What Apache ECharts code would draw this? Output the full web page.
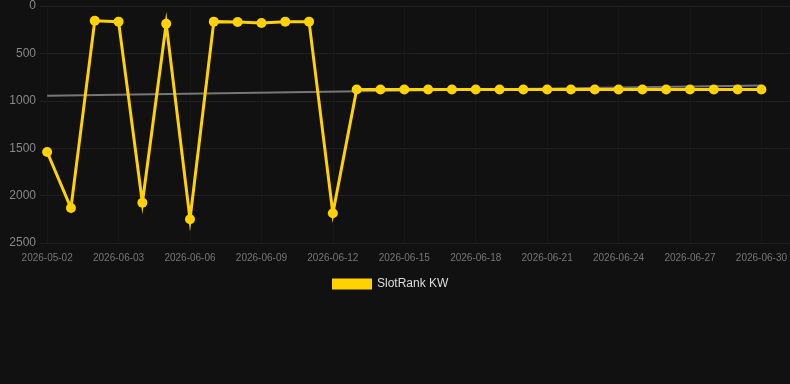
<!DOCTYPE html>
<html lang="en">
<head>
  <meta charset="UTF-8">
  <title>SlotRank KW</title>
  <style>
    html, body { margin: 0; padding: 0; background: #111111; }
    #main { width: 790px; height: 384px; }
  </style>
</head>
<body>
  <div id="main"></div>
<script src="https://cdn.jsdelivr.net/npm/echarts@6/dist/echarts.min.js"></script>
<script>
  // categories (x) - one per point
  var dates = ['2026-05-02', '2026-06-01', '2026-06-02', '2026-06-03', '2026-06-04', '2026-06-05',
    '2026-06-06', '2026-06-07', '2026-06-08', '2026-06-09', '2026-06-10', '2026-06-11',
    '2026-06-12', '2026-06-13', '2026-06-14', '2026-06-15', '2026-06-16', '2026-06-17',
    '2026-06-18', '2026-06-19', '2026-06-20', '2026-06-21', '2026-06-22', '2026-06-23',
    '2026-06-24', '2026-06-25', '2026-06-26', '2026-06-27', '2026-06-28', '2026-06-29', '2026-06-30'];
  // rank values
  var rank = [1540, 2131, 155, 165, 2075, 187, 2250, 165, 169, 179, 165, 165, 2187,
    880, 880, 880, 880, 880, 880, 880, 880, 880, 880, 880, 880, 880, 880, 880, 880, 880, 880];
  // grey trend line, start and end
  var trendStart = 946;
  var trendEnd = 838;
  // labelled ticks
  var labelIdx = [0, 3, 6, 9, 12, 15, 18, 21, 24, 27, 30];
  var yTicks = [0, 500, 1000, 1500, 2000, 2500];

  var chart = echarts.init(document.getElementById('main'));

  var option = {
    backgroundColor: '#111111',
    animation: false,
    grid: { left: 40, right: 0, top: 6, bottom: 141 },
    legend: {
      data: ['SlotRank KW'],
      left: 327,
      top: 273,
      icon: 'rect',
      itemWidth: 40,
      itemHeight: 11,
      itemGap: 6,
      textStyle: { color: '#dddddd', fontSize: 12, fontFamily: 'Liberation Sans, Arial, sans-serif' }
    },
    xAxis: {
      type: 'value',
      min: -0.3,
      max: 31.2,
      axisLine: { show: false },
      axisTick: { show: false, customValues: labelIdx },
      axisLabel: {
        customValues: labelIdx,
        color: '#777777',
        fontSize: 10,
        margin: 10,
        fontFamily: 'Liberation Sans, Arial, sans-serif',
        formatter: function (v) { return dates[Math.round(v)]; }
      },
      splitLine: { show: true, lineStyle: { color: '#181818', width: 1 } }
    },
    yAxis: {
      type: 'value',
      inverse: true,
      min: yTicks[0],
      max: yTicks[yTicks.length - 1],
      interval: 500,
      axisLine: { show: false },
      axisTick: { show: false },
      axisLabel: {
        color: '#888888',
        fontSize: 12,
        margin: 4,
        fontFamily: 'Liberation Sans, Arial, sans-serif',
        formatter: function (v) { return String(v); }
      },
      splitLine: { lineStyle: { color: '#212121', width: 1 } }
    },
    series: [
      {
        name: 'trend',
        type: 'line',
        data: [[0, trendStart], [dates.length - 1, trendEnd]],
        symbol: 'none',
        lineStyle: { color: '#777777', width: 2 },
        z: 1
      },
      {
        name: 'SlotRank KW',
        type: 'line',
        data: rank.map(function (v, i) { return [i, v]; }),
        symbol: 'circle',
        symbolSize: 10,
        itemStyle: { color: '#ffd200' },
        lineStyle: { color: '#ffd200', width: 3, join: 'miter', miterLimit: 10 },
        z: 3
      }
    ]
  };

  chart.setOption(option);
</script>
</body>
</html>
